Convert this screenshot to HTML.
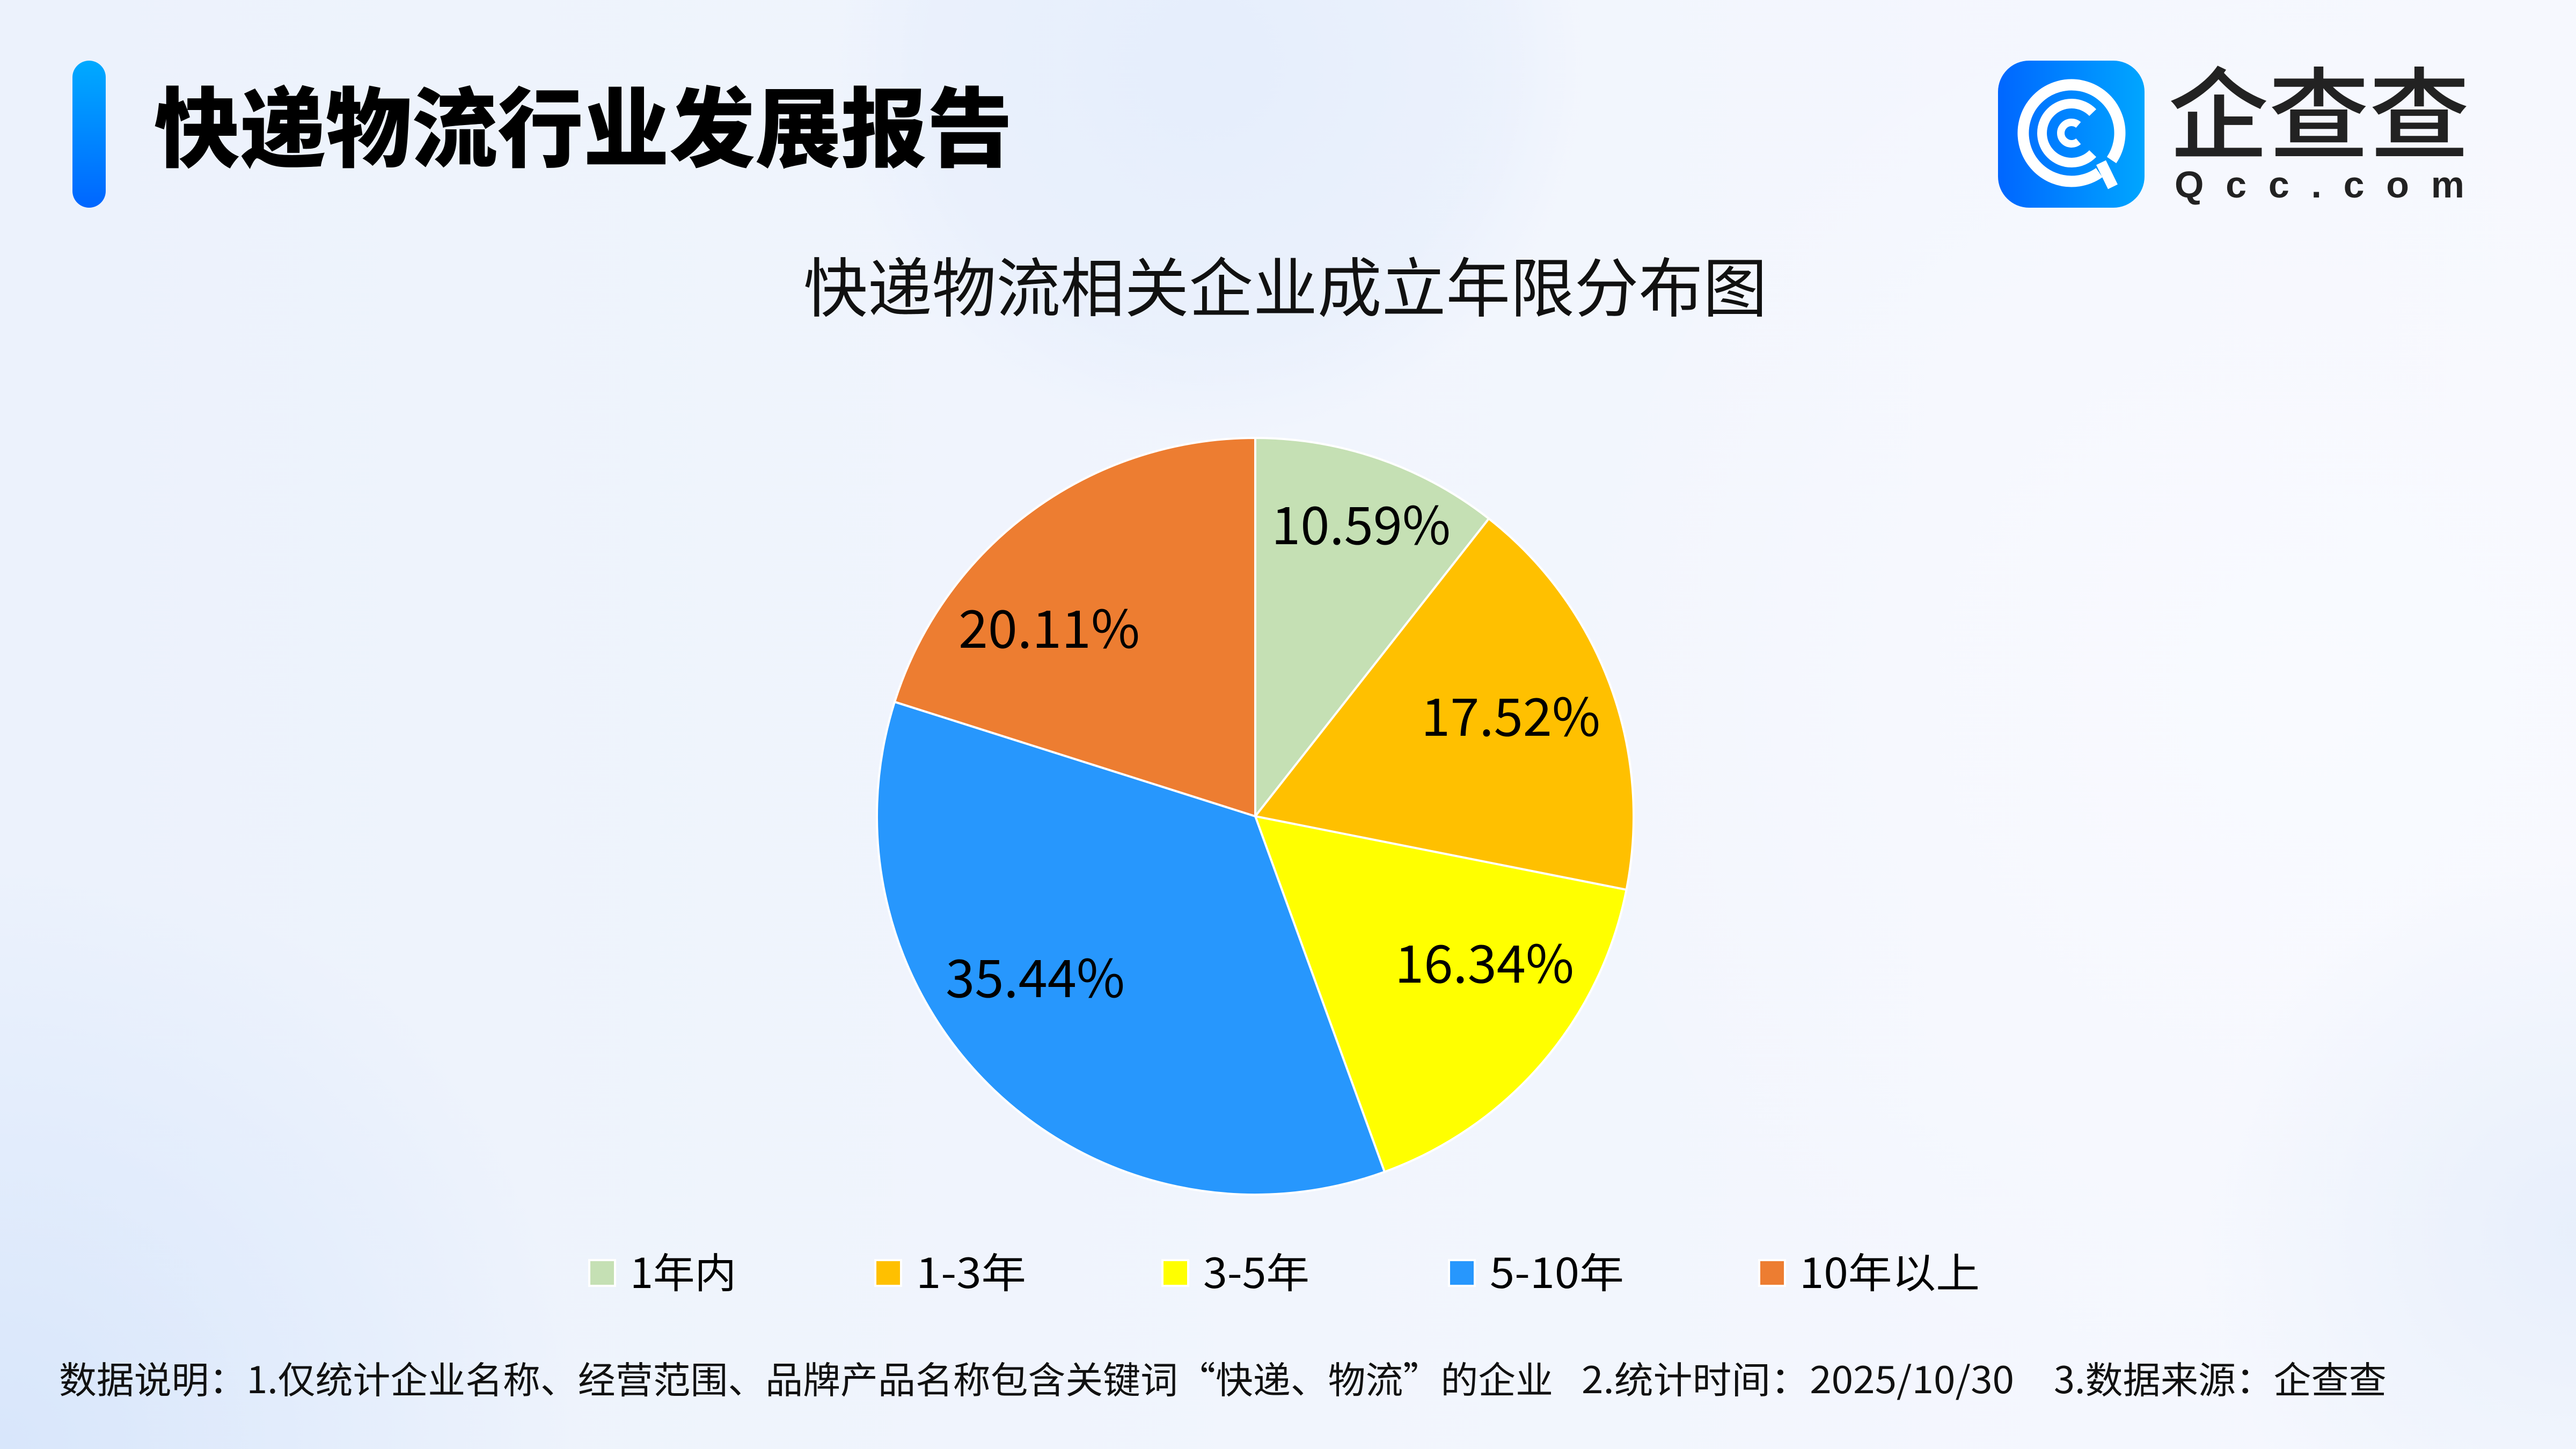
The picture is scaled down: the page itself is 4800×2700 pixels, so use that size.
<!DOCTYPE html>
<html>
<head>
<meta charset="utf-8">
<style>
  html, body { margin: 0; padding: 0; }
  body { width: 4800px; height: 2700px; overflow: hidden; }
  svg { display: block; }
  .cjk { font-family: "Liberation Sans", "Noto Sans CJK SC", "WenQuanYi Zen Hei", sans-serif; }
  .num { font-family: "Noto Sans CJK SC", "Liberation Sans", sans-serif; }
</style>
</head>
<body>
<svg width="4800" height="2700" viewBox="0 0 4800 2700" xmlns="http://www.w3.org/2000/svg">
  <defs>
    <linearGradient id="bg" x1="0" y1="0" x2="1" y2="0">
      <stop offset="0" stop-color="#ECF2FC"/>
      <stop offset="0.5" stop-color="#F1F5FD"/>
      <stop offset="1" stop-color="#F6F8FE"/>
    </linearGradient>
    <radialGradient id="blobBL" cx="0" cy="2700" r="1100" gradientUnits="userSpaceOnUse">
      <stop offset="0" stop-color="#D8E6FB" stop-opacity="1"/>
      <stop offset="1" stop-color="#D8E6FB" stop-opacity="0"/>
    </radialGradient>
    <radialGradient id="blobTop" cx="2250" cy="120" r="700" gradientUnits="userSpaceOnUse">
      <stop offset="0" stop-color="#E4EDFC" stop-opacity="0.9"/>
      <stop offset="0.75" stop-color="#E4EDFC" stop-opacity="0.5"/>
      <stop offset="1" stop-color="#E4EDFC" stop-opacity="0"/>
    </radialGradient>
    <radialGradient id="blobR" cx="4300" cy="1300" r="1400" gradientUnits="userSpaceOnUse">
      <stop offset="0" stop-color="#F9FAFF" stop-opacity="1"/>
      <stop offset="1" stop-color="#F9FAFF" stop-opacity="0"/>
    </radialGradient>
    <radialGradient id="blobBR" cx="4800" cy="2300" r="700" gradientUnits="userSpaceOnUse">
      <stop offset="0" stop-color="#E6EEFB" stop-opacity="0.9"/>
      <stop offset="1" stop-color="#E6EEFB" stop-opacity="0"/>
    </radialGradient>
    <linearGradient id="bar" x1="0" y1="0" x2="0" y2="1">
      <stop offset="0" stop-color="#00AAFF"/>
      <stop offset="1" stop-color="#0066FF"/>
    </linearGradient>
    <linearGradient id="logo" x1="0" y1="0" x2="1" y2="0">
      <stop offset="0" stop-color="#0066FF"/>
      <stop offset="1" stop-color="#00A6FF"/>
    </linearGradient>
  </defs>

  <!-- background -->
  <rect x="0" y="0" width="4800" height="2700" fill="url(#bg)"/>
  <rect x="0" y="0" width="4800" height="2700" fill="url(#blobR)"/>
  <rect x="0" y="0" width="4800" height="2700" fill="url(#blobTop)"/>
  <rect x="0" y="0" width="4800" height="2700" fill="url(#blobBL)"/>
  <rect x="0" y="0" width="4800" height="2700" fill="url(#blobBR)"/>

  <!-- header bar and title -->
  <rect x="135" y="113" width="62" height="274" rx="31" ry="31" fill="url(#bar)"/>
  <text class="cjk" x="287" y="298" font-size="162" font-weight="900" fill="#000000" textLength="1600" lengthAdjust="spacingAndGlyphs">快递物流行业发展报告</text>

  <!-- logo -->
  <rect x="3723" y="113" width="273" height="274" rx="58" ry="58" fill="url(#logo)"/>
  <g fill="none" stroke="#FFFFFF" stroke-linecap="butt">
    <path d="M 3911.6 321.7 A 90 90 0 1 1 3934.6 298.3" stroke-width="21"/>
    <path d="M 3899.6 286.2 A 55 55 0 1 1 3899.6 209.8" stroke-width="18"/>
    <path d="M 3872.9 263.3 A 20 20 0 1 1 3872.9 232.7" stroke-width="14"/>
    <line x1="3915" y1="303" x2="3937" y2="348" stroke-width="20"/>
  </g>
  <text class="cjk" x="4040" y="281" font-size="186" font-weight="500" fill="#222222" textLength="562" lengthAdjust="spacingAndGlyphs">企查查</text>
  <text x="4052" y="368" font-family="Liberation Sans, sans-serif" font-size="70" font-weight="bold" fill="#222222" textLength="540" lengthAdjust="spacing">Qcc.com</text>

  <!-- chart title -->
  <text class="cjk" x="2395" y="580" font-size="120" fill="#111111" text-anchor="middle" textLength="1796" lengthAdjust="spacingAndGlyphs">快递物流相关企业成立年限分布图</text>

  <!-- pie -->
  <g stroke="#FFFFFF" stroke-width="4" stroke-linejoin="round">
    <path d="M 2339 1521 L 2339 816 A 705 705 0 0 1 2774.2 966.4 Z" fill="#C5E0B4"/>
    <path d="M 2339 1521 L 2774.2 966.4 A 705 705 0 0 1 3030.6 1657.9 Z" fill="#FFC000"/>
    <path d="M 2339 1521 L 3030.6 1657.9 A 705 705 0 0 1 2579.9 2183.6 Z" fill="#FFFF00"/>
    <path d="M 2339 1521 L 2579.9 2183.6 A 705 705 0 0 1 1667.0 1307.8 Z" fill="#2797FD"/>
    <path d="M 2339 1521 L 1667.0 1307.8 A 705 705 0 0 1 2339 816 Z" fill="#ED7D31"/>
  </g>

  <!-- pie labels -->
  <g class="num" font-size="97" fill="#000000" text-anchor="middle">
    <text x="2536" y="1014" textLength="334" lengthAdjust="spacingAndGlyphs">10.59%</text>
    <text x="2815" y="1371" textLength="334" lengthAdjust="spacingAndGlyphs">17.52%</text>
    <text x="2766" y="1831" textLength="334" lengthAdjust="spacingAndGlyphs">16.34%</text>
    <text x="1929" y="1858" textLength="334" lengthAdjust="spacingAndGlyphs">35.44%</text>
    <text x="1955" y="1207" textLength="338" lengthAdjust="spacingAndGlyphs">20.11%</text>
  </g>

  <!-- legend -->
  <g stroke="#FFFFFF" stroke-width="4">
    <rect x="1098" y="2348" width="48" height="48" fill="#C5E0B4"/>
    <rect x="1631" y="2348" width="48" height="48" fill="#FFC000"/>
    <rect x="2166" y="2348" width="48" height="48" fill="#FFFF00"/>
    <rect x="2700" y="2348" width="48" height="48" fill="#2797FD"/>
    <rect x="3278" y="2348" width="48" height="48" fill="#ED7D31"/>
  </g>
  <g class="num" font-size="77" fill="#000000">
    <text x="1174" y="2400" textLength="198" lengthAdjust="spacingAndGlyphs">1年内</text>
    <text x="1707" y="2400" textLength="205" lengthAdjust="spacingAndGlyphs">1-3年</text>
    <text x="2242" y="2400" textLength="198" lengthAdjust="spacingAndGlyphs">3-5年</text>
    <text x="2776" y="2400" textLength="250" lengthAdjust="spacingAndGlyphs">5-10年</text>
    <text x="3353" y="2400" textLength="336" lengthAdjust="spacingAndGlyphs">10年以上</text>
  </g>

  <!-- footer -->
  <g class="num" font-size="69" fill="#111111">
    <text x="110" y="2596" textLength="2784" lengthAdjust="spacingAndGlyphs">数据说明：1.仅统计企业名称、经营范围、品牌产品名称包含关键词“快递、物流”的企业</text>
    <text x="2947" y="2596" textLength="806" lengthAdjust="spacingAndGlyphs">2.统计时间：2025/10/30</text>
    <text x="3827" y="2596" textLength="620" lengthAdjust="spacingAndGlyphs">3.数据来源：企查查</text>
  </g>
</svg>
</body>
</html>
